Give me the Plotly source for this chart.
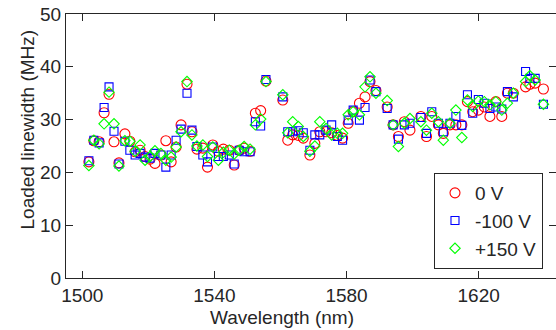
import plotly.graph_objects as go

# Wavelength (nm) of each resonance
wavelength = [1502.0, 1503.5, 1505.1, 1506.6, 1508.1, 1509.6, 1511.1, 1512.9, 1514.4, 1516.0,
              1517.5, 1519.0, 1520.5, 1522.0, 1523.8, 1525.3, 1526.9, 1528.4, 1529.9, 1531.7,
              1533.2, 1534.7, 1536.5, 1537.9, 1539.5, 1541.2, 1542.7, 1544.5, 1546.0, 1547.5,
              1549.0, 1550.8, 1552.4, 1554.0, 1555.6, 1560.7, 1562.2, 1563.7, 1565.4, 1566.9,
              1568.9, 1570.4, 1571.9, 1573.8, 1575.5, 1577.2, 1578.8, 1580.5, 1582.0, 1583.9,
              1585.6, 1587.1, 1588.9, 1592.3, 1594.1, 1595.7, 1597.5, 1599.2, 1602.5, 1604.2,
              1605.8, 1607.8, 1609.3, 1611.3, 1613.1, 1614.9, 1616.6, 1618.2, 1619.9, 1621.7,
              1623.4, 1625.2, 1627.0, 1628.7, 1630.5, 1634.2, 1635.5, 1637.1, 1639.6]

# Loaded linewidth (MHz)
lw_0V = [22.0, 26.0, 25.8, 31.3, 34.8, 25.8, 21.8, 27.3, 25.9, 23.9,
         24.2, 23.0, 22.5, 21.7, 23.3, 26.0, 22.0, 24.8, 29.0, 36.7,
         27.7, 24.4, 24.6, 21.0, 25.2, 24.0, 24.4, 24.2, 21.4, 24.2,
         24.6, 24.0, 31.2, 31.7, 37.3, 33.7, 26.1, 27.1, 27.0, 26.5,
         23.3, 25.5, 27.7, 27.7, 27.5, 27.0, 26.5, 29.3, 31.5, 33.1,
         34.3, 37.2, 35.5, 32.4, 29.0, 26.8, 29.6, 28.0, 30.6, 26.8,
         30.6, 29.0, 27.4, 29.0, 29.0, 29.0, 33.4, 31.5, 31.8, 32.4,
         30.6, 33.4, 30.6, 35.0, 35.0, 36.2, 36.7, 36.9, 35.8]

lw_m100V = [22.2, 26.1, 25.6, 32.3, 36.2, 27.8, 21.6, 25.9, 24.2, 23.3,
            23.6, 22.9, 22.7, 23.6, 23.3, 21.0, 23.3, 26.1, 28.2, 35.0,
            28.0, 24.9, 23.3, 22.0, 24.8, 23.0, 23.0, 23.3, 21.6, 24.2,
            23.9, 23.9, 29.6, 28.8, 37.6, 34.3, 27.7, 27.7, 27.9, 27.5,
            24.2, 27.1, 27.1, 28.0, 29.0, 26.8, 26.1, 29.9, 31.8, 29.9,
            32.3, 37.5, 35.3, 32.1, 29.0, 26.3, 29.0, 29.3, 30.4, 27.4,
            31.5, 29.3, 27.7, 29.3, 30.6, 28.9, 34.7, 31.2, 33.8, 33.1,
            32.1, 32.4, 32.0, 35.3, 34.3, 39.1, 37.8, 37.8, 32.9]

lw_p150V = [21.3, 26.1, 25.4, 29.2, 35.2, 29.2, 21.2, 26.0, 25.9, 24.0,
            25.2, 22.3, 23.0, 24.1, 23.6, 22.3, 22.9, 24.8, 27.7, 37.2,
            27.1, 25.0, 25.2, 23.0, 24.8, 22.3, 23.8, 24.2, 23.5, 24.2,
            24.9, 24.4, 29.0, 30.1, 37.2, 34.7, 27.5, 29.6, 28.7, 26.8,
            24.0, 25.0, 29.6, 28.3, 27.1, 27.4, 27.4, 30.9, 31.5, 30.9,
            36.2, 38.1, 35.0, 33.6, 29.0, 24.9, 29.3, 30.2, 29.6, 28.0,
            31.2, 29.6, 26.1, 29.3, 31.8, 26.6, 33.7, 32.5, 33.5, 33.4,
            32.8, 33.4, 31.8, 33.1, 35.0, 37.2, 38.3, 37.5, 32.9]

series_names = ["0 V", "-100 V", "+150 V"]
x_ticks = [1500, 1540, 1580, 1620]
y_ticks = [0, 10, 20, 30, 40, 50]

INK = "#262626"
FONT = "Liberation Sans, Arial, Helvetica, sans-serif"

fig = go.Figure()
fig.add_trace(go.Scatter(x=wavelength, y=lw_0V, mode="markers", name=series_names[0],
                         marker=dict(symbol="circle-open", size=10, color="#ff0000",
                                     line=dict(width=1.1))))
fig.add_trace(go.Scatter(x=wavelength, y=lw_m100V, mode="markers", name=series_names[1],
                         marker=dict(symbol="square-open", size=8, color="#0000ff",
                                     line=dict(width=1.1))))
fig.add_trace(go.Scatter(x=wavelength, y=lw_p150V, mode="markers", name=series_names[2],
                         marker=dict(symbol="diamond-open", size=8, color="#00ff00",
                                     line=dict(width=1.1))))

axis_common = dict(ticks="inside", ticklen=7, tickwidth=1, tickcolor=INK,
                   showline=True, linecolor=INK, linewidth=1, mirror="ticks",
                   showgrid=False, zeroline=False,
                   tickfont=dict(family=FONT, size=19, color=INK))

fig.update_layout(
    width=556, height=330,
    margin=dict(l=66, r=0, t=14, b=52),
    paper_bgcolor="white", plot_bgcolor="white",
    font=dict(family=FONT, size=19, color=INK),
    xaxis=dict(range=[1495.07, 1643.41], tickvals=x_ticks, **axis_common),
    yaxis=dict(range=[0, 50], tickvals=y_ticks, **axis_common),
    showlegend=True,
    legend=dict(x=0.751, y=0.3977, xanchor="left", yanchor="top",
                bordercolor=INK, borderwidth=1, bgcolor="white",
                font=dict(family=FONT, size=19, color=INK)),
    annotations=[
        dict(text="Wavelength (nm)", xref="paper", yref="paper", x=0.4398, y=-0.1515,
             xanchor="center", yanchor="middle", showarrow=False,
             font=dict(family=FONT, size=19, color=INK)),
        dict(text="Loaded linewidth (MHz)", xref="paper", yref="paper", x=-0.0776, y=0.5625,
             xanchor="center", yanchor="middle", textangle=-90, showarrow=False,
             font=dict(family=FONT, size=19, color=INK)),
    ],
)

fig.write_html("out.html",
               config={"displayModeBar": False},
               post_script="document.body.style.margin='0px';document.body.style.overflow='hidden';")
